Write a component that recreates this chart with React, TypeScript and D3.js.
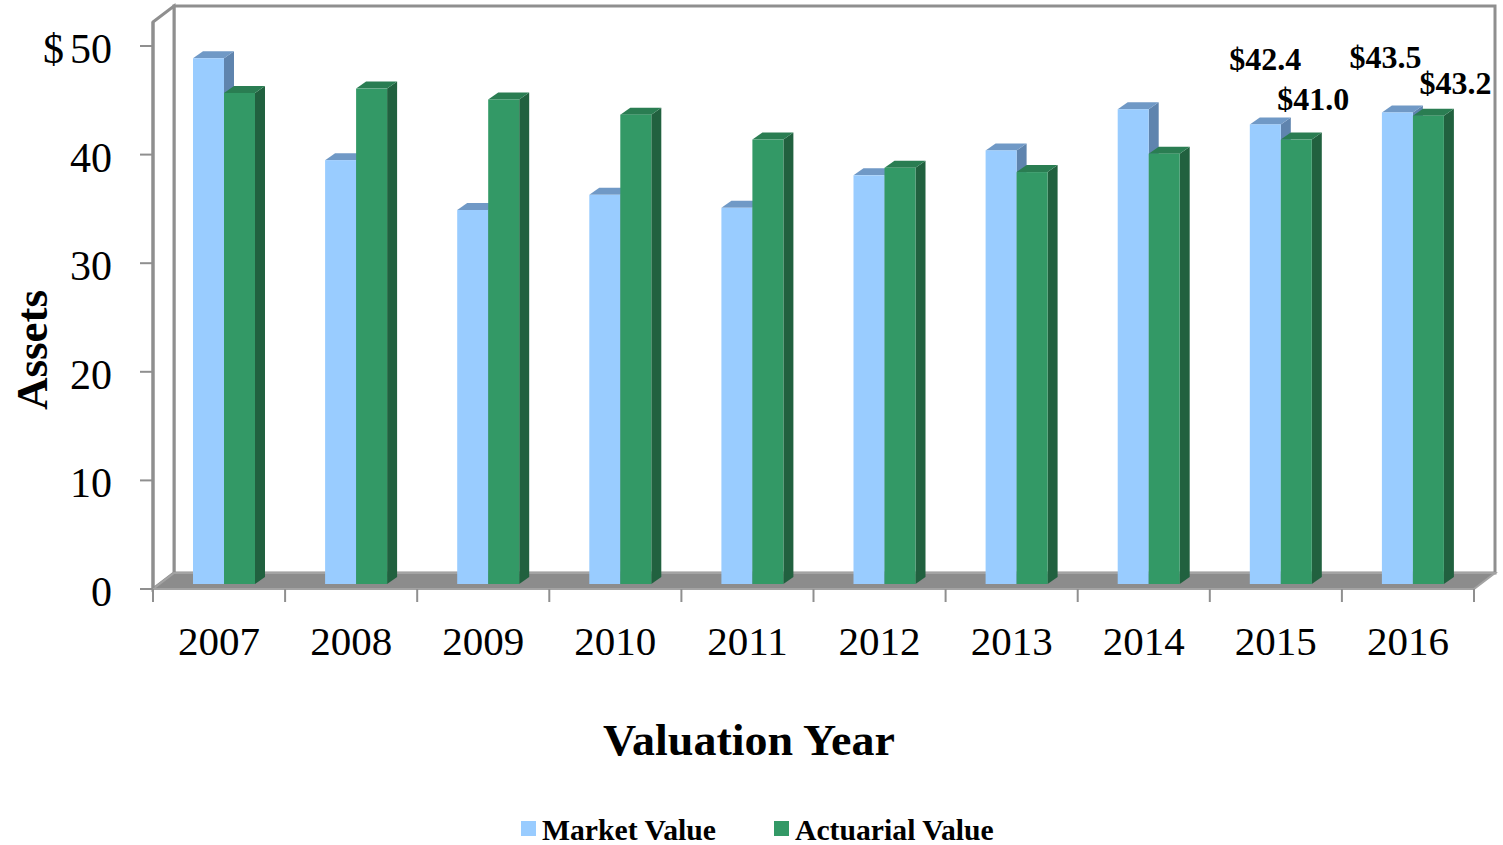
import React from 'react';
import * as d3 from 'd3';

const years = ['2007', '2008', '2009', '2010', '2011', '2012', '2013', '2014', '2015', '2016'];
const marketValue = [48.5, 39.1, 34.5, 35.9, 34.7, 37.7, 40.0, 43.8, 42.4, 43.5];
const actuarialValue = [45.3, 45.7, 44.7, 43.3, 41.0, 38.4, 38.0, 39.7, 41.0, 43.2];
const yTicks = [0, 10, 20, 30, 40, 50];
const labelledYears = ['2015', '2016'];

const width = 1503;
const height = 845;
const font = '"Liberation Serif", "Times New Roman", Times, serif';

// 3d look
const wallDx = 21;
const wallDy = -16;
const barDx = 10;
const barDy = -7;

const series = [
  { key: 'market', name: 'Market Value', values: marketValue, front: '#99ccff', top: '#7099c6', side: '#5f84ae' },
  { key: 'actuarial', name: 'Actuarial Value', values: actuarialValue, front: '#339966', top: '#2a7d52', side: '#21613f' },
];

// hand placed label nudges (x, y) relative to the bar top
const labelNudge = {
  market: { '2015': [0, -54], '2016': [-12, -44] },
  actuarial: { '2015': [17, -30], '2016': [27, -22] },
};

const App = () => {
  const x = d3.scaleBand().domain(years).range([153, 1474]).padding(0);
  const inner = d3.scaleBand().domain(series.map(s => s.key)).range([40, 102]);
  const y = d3.scaleLinear().domain([0, 50]).range([589, 46]);
  const yBar = d3.scaleLinear().domain([0, 50]).range([584, 42]);

  const left = x.range()[0];
  const right = x.range()[1];
  const top = y(50) - 24;
  const base = y(0);

  const gray = '#8f8f8f';

  return (
    <svg width={width} height={height} style={{ position: 'absolute', left: 0, top: 0, background: '#fff' }}>
      {/* back wall */}
      <rect x={left + wallDx} y={top + wallDy} width={right - left} height={base - top}
        fill="#fff" stroke={gray} strokeWidth={3} />
      {/* side wall */}
      <polygon
        points={`${left},${top} ${left + wallDx},${top + wallDy} ${left + wallDx},${base + wallDy} ${left},${base}`}
        fill="#fff" stroke={gray} strokeWidth={3} />
      {/* floor */}
      <polygon
        points={`${left},${base} ${right},${base} ${right + wallDx},${base + wallDy} ${left + wallDx},${base + wallDy}`}
        fill="#8c8c8c" stroke="#a3a3a3" strokeWidth={2} />

      {/* bars */}
      {years.map((yr, i) => (
        <g key={yr}>
          {series.map(s => {
            const bx = x(yr) + inner(s.key);
            const bw = inner.bandwidth();
            const ty = yBar(s.values[i]);
            const by = yBar(0);
            return (
              <g key={s.key}>
                <polygon
                  points={`${bx + bw},${ty} ${bx + bw + barDx},${ty + barDy} ${bx + bw + barDx},${by + barDy} ${bx + bw},${by}`}
                  fill={s.side} />
                <polygon
                  points={`${bx},${ty} ${bx + barDx},${ty + barDy} ${bx + bw + barDx},${ty + barDy} ${bx + bw},${ty}`}
                  fill={s.top} />
                <rect x={bx} y={ty} width={bw} height={by - ty} fill={s.front} />
              </g>
            );
          })}
        </g>
      ))}

      {/* data labels */}
      {series.map(s =>
        labelledYears.map(yr => {
          const i = years.indexOf(yr);
          const [dx, dy] = labelNudge[s.key][yr];
          const cx = x(yr) + inner(s.key) + inner.bandwidth() / 2;
          return (
            <text key={s.key + yr} x={cx + dx} y={yBar(s.values[i]) + dy} textAnchor="middle"
              fontFamily={font} fontWeight="bold" fontSize={32} fill="#000">
              {'$' + s.values[i].toFixed(1)}
            </text>
          );
        })
      )}

      {/* y axis */}
      <line x1={left} x2={left} y1={top} y2={base} stroke={gray} strokeWidth={3} />
      {yTicks.map(t => (
        <g key={t}>
          <line x1={left - 13} x2={left} y1={y(t)} y2={y(t)} stroke={gray} strokeWidth={2} />
          <text x={112} y={y(t) + 17} textAnchor="end" fontFamily={font} fontSize={42} fill="#000">
            {t}
          </text>
        </g>
      ))}
      <text x={43} y={y(50) + 17} fontFamily={font} fontSize={42} fill="#000">$</text>

      {/* x axis */}
      <line x1={left} x2={right} y1={base} y2={base} stroke="#a3a3a3" strokeWidth={2} />
      {years.concat(['end']).map((yr, i) => {
        const tx = left + i * x.bandwidth();
        return <line key={'t' + i} x1={tx} x2={tx} y1={base} y2={base + 13} stroke={gray} strokeWidth={2} />;
      })}
      {years.map(yr => (
        <text key={'l' + yr} x={x(yr) + x.bandwidth() / 2} y={655} textAnchor="middle"
          fontFamily={font} fontSize={41} fill="#000">
          {yr}
        </text>
      ))}

      {/* axis titles */}
      <text transform="translate(47,350) rotate(-90)" textAnchor="middle" fontFamily={font}
        fontWeight="bold" fontSize={45} fill="#000">
        Assets
      </text>
      <text x={749} y={755} textAnchor="middle" fontFamily={font} fontWeight="bold" fontSize={45}
        textLength={292} lengthAdjust="spacingAndGlyphs" fill="#000">
        Valuation Year
      </text>

      {/* legend */}
      {series.map((s, i) => {
        const lx = [521, 774][i];
        return (
          <g key={'lg' + s.key}>
            <rect x={lx} y={821} width={15} height={15} fill={s.front} />
            <text x={lx + 21} y={840} fontFamily={font} fontWeight="bold" fontSize={29.7} fill="#000">
              {s.name}
            </text>
          </g>
        );
      })}
    </svg>
  );
};

export default App;
